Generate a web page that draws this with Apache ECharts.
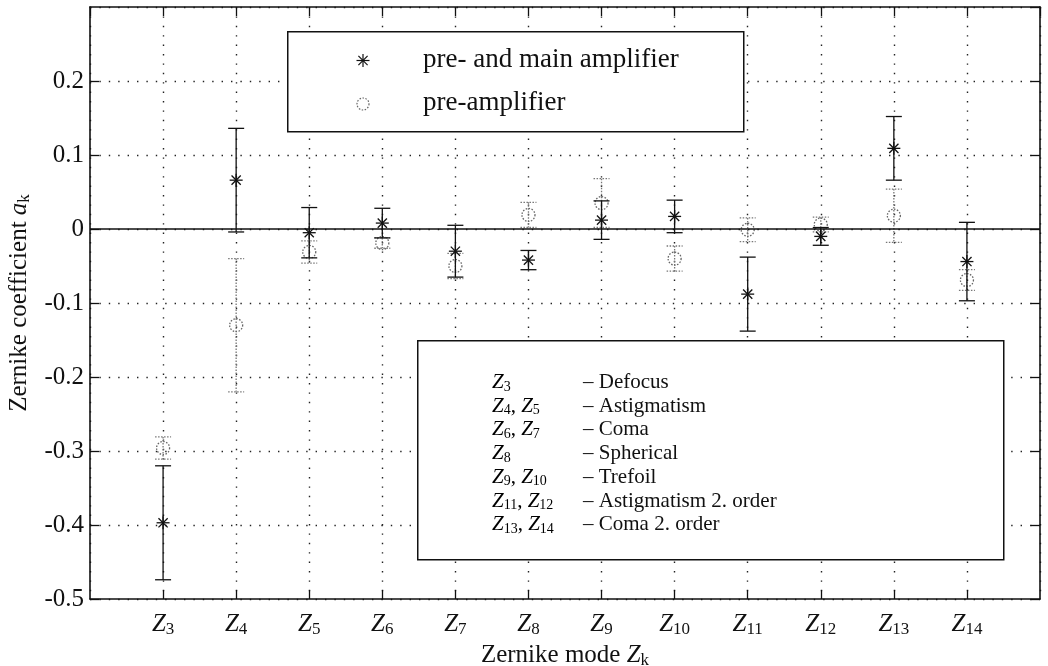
<!DOCTYPE html>
<html>
<head>
<meta charset="utf-8">
<script src="https://cdn.jsdelivr.net/npm/echarts@6/dist/echarts.min.js"></script>
<style>
  html, body { margin: 0; padding: 0; background: #fff; }
  #chart { width: 1048px; height: 666px; }
</style>
</head>
<body>
<div id="chart"></div>
<script>
// Zernike modes on the x axis
const modes = [3, 4, 5, 6, 7, 8, 9, 10, 11, 12, 13, 14];
// pre- and main amplifier (asterisk), mean and half error bar
const ampMean = [-0.397, 0.066, -0.005, 0.008, -0.030, -0.042, 0.012, 0.017, -0.088, -0.010, 0.109, -0.044];
const ampErr = [0.077, 0.070, 0.034, 0.020, 0.035, 0.013, 0.026, 0.022, 0.050, 0.012, 0.043, 0.053];
// pre-amplifier (circle)
const preMean = [-0.296, -0.130, -0.031, -0.019, -0.050, 0.019, 0.035, -0.040, -0.001, 0.006, 0.018, -0.069];
const preErr = [0.015, 0.090, 0.015, 0.007, 0.017, 0.017, 0.033, 0.017, 0.016, 0.010, 0.036, 0.014];
// y tick labels
const yTicks = [-0.5, -0.4, -0.3, -0.2, -0.1, 0, 0.1, 0.2];
// second box: modes and names
const groupModes = [['3'], ['4', '5'], ['6', '7'], ['8'], ['9', '10'], ['11', '12'], ['13', '14']];
const groupNames = ['Defocus', 'Astigmatism', 'Coma', 'Spherical', 'Trefoil', 'Astigmatism 2. order', 'Coma 2. order'];

const FONT = 'Liberation Serif';

function zLabel(sub) {
    return '{i|Z}{s|' + sub + '}';
}

function makeRich(size, subSize) {
    return {
        i: { fontFamily: FONT, fontStyle: 'italic', fontSize: size, color: '#111' },
        s: { fontFamily: FONT, fontSize: subSize, color: '#111', padding: [Math.round(size * 0.45), 0, 0, 0] },
        t: { fontFamily: FONT, fontSize: size, color: '#111' }
    };
}

// error bar + marker for one point
function errorItem(kind) {
    return function (params, api) {
        let x = api.value(0), m = api.value(1), e = api.value(2);
        let c = api.coord([x, m]);
        let hi = api.coord([x, m + e]);
        let lo = api.coord([x, m - e]);
        let w = 8;
        let style = kind === 'star'
            ? { stroke: '#111', lineWidth: 1.3 }
            : { stroke: '#777', lineWidth: 1.3, lineDash: [1.5, 1.5] };
        let children = [
            { type: 'line', shape: { x1: hi[0], y1: hi[1], x2: lo[0], y2: lo[1] }, style: style },
            { type: 'line', shape: { x1: hi[0] - w, y1: hi[1], x2: hi[0] + w, y2: hi[1] }, style: style },
            { type: 'line', shape: { x1: lo[0] - w, y1: lo[1], x2: lo[0] + w, y2: lo[1] }, style: style }
        ];
        if (kind === 'star') {
            let r = 6.5, d = 4.6;
            let ms = { stroke: '#111', lineWidth: 1.3 };
            children.push(
                { type: 'line', shape: { x1: c[0], y1: c[1] - r, x2: c[0], y2: c[1] + r }, style: ms },
                { type: 'line', shape: { x1: c[0] - r, y1: c[1], x2: c[0] + r, y2: c[1] }, style: ms },
                { type: 'line', shape: { x1: c[0] - d, y1: c[1] - d, x2: c[0] + d, y2: c[1] + d }, style: ms },
                { type: 'line', shape: { x1: c[0] - d, y1: c[1] + d, x2: c[0] + d, y2: c[1] - d }, style: ms }
            );
        } else {
            children.push({ type: 'circle', shape: { cx: c[0], cy: c[1], r: 6.5 },
                style: { fill: 'none', stroke: '#666', lineWidth: 1.3, lineDash: [1.5, 1.5] } });
        }
        return { type: 'group', children: children };
    };
}

let myChart = echarts.init(document.getElementById('chart'));

let dotted = { color: '#222', width: 1.4, type: [1.4, 8] };
let starLine = { stroke: '#111', lineWidth: 1.2 };

// legend boxes
let graphics = [
    { type: 'rect', left: 287, top: 31, shape: { width: 456, height: 100 },
        style: { fill: '#fff', stroke: '#111', lineWidth: 1.5 }, z: 10 },
    { type: 'line', z: 11, shape: { x1: 363, y1: 54, x2: 363, y2: 67 }, style: starLine },
    { type: 'line', z: 11, shape: { x1: 356.5, y1: 60.5, x2: 369.5, y2: 60.5 }, style: starLine },
    { type: 'line', z: 11, shape: { x1: 358.4, y1: 55.9, x2: 367.6, y2: 65.1 }, style: starLine },
    { type: 'line', z: 11, shape: { x1: 358.4, y1: 65.1, x2: 367.6, y2: 55.9 }, style: starLine },
    { type: 'circle', shape: { cx: 363, cy: 104, r: 6 }, z: 11,
        style: { fill: 'none', stroke: '#666', lineWidth: 1.2, lineDash: [1.5, 1.5] } },
    { type: 'text', left: 423, top: 46, z: 11,
        style: { text: 'pre- and main amplifier', font: '27px "Liberation Serif"', fill: '#111' } },
    { type: 'text', left: 423, top: 89, z: 11,
        style: { text: 'pre-amplifier', font: '27px "Liberation Serif"', fill: '#111' } },
    { type: 'rect', left: 417, top: 340, shape: { width: 586, height: 219 },
        style: { fill: '#fff', stroke: '#111', lineWidth: 1.5 }, z: 10 }
];
groupModes.forEach(function (g, k) {
    let y = 372 + k * 23.7;
    graphics.push({ type: 'text', left: 492, top: y, z: 11,
        style: { text: g.map(zLabel).join('{t|, }'), rich: makeRich(21, 14) } });
    graphics.push({ type: 'text', left: 583, top: y, z: 11,
        style: { text: '\u2013 ' + groupNames[k], font: '21px "Liberation Serif"', fill: '#111' } });
});

let axisLineStyle = { onZero: false, show: true, lineStyle: { color: '#111', width: 1.6 } };
let tickStyle = { inside: true, length: 9, lineStyle: { color: '#111', width: 1.3 } };

let option = {
    animation: false,
    backgroundColor: '#fff',
    grid: { left: 90, right: 8, top: 7, bottom: 67, outerBoundsMode: 'none', containLabel: false },
    xAxis: [{
        type: 'value', min: 2, max: 15, interval: 1,
        axisLine: axisLineStyle,
        axisTick: tickStyle,
        splitLine: { show: true, lineStyle: dotted },
        axisLabel: {
            showMinLabel: false, showMaxLabel: false, margin: 11,
            formatter: function (v) { return zLabel(v); },
            rich: makeRich(25, 17)
        },
        name: 'Zernike mode {i|Z}{s|k}', nameLocation: 'middle', nameGap: 37,
        nameTextStyle: { fontFamily: FONT, fontSize: 25, color: '#111', rich: makeRich(25, 17) }
    }, {
        type: 'value', min: 2, max: 15, interval: 1, position: 'top',
        axisLine: axisLineStyle,
        axisTick: tickStyle,
        axisLabel: { show: false }, splitLine: { show: false }
    }],
    yAxis: [{
        type: 'value', min: -0.5, max: 0.3, interval: 0.1,
        axisLine: axisLineStyle,
        axisTick: tickStyle,
        splitLine: { show: true, lineStyle: dotted },
        axisLabel: {
            showMaxLabel: false, margin: 6, fontFamily: FONT, fontSize: 25, color: '#111',
            formatter: function (v) {
                let r = Math.round(v * 10) / 10;
                return yTicks.indexOf(r) >= 0 ? String(r) : '';
            }
        },
        name: 'Zernike coefficient {i|a}{s|k}', nameLocation: 'middle', nameGap: 56,
        nameTextStyle: { fontFamily: FONT, fontSize: 25, color: '#111', rich: makeRich(25, 17) }
    }, {
        type: 'value', min: -0.5, max: 0.3, interval: 0.1, position: 'right',
        axisLine: axisLineStyle,
        axisTick: tickStyle,
        axisLabel: { show: false }, splitLine: { show: false }
    }],
    graphic: graphics,
    series: [
        {
            name: 'zero', type: 'line', data: [[2, 0], [15, 0]], symbol: 'none',
            lineStyle: { color: '#111', width: 1.6 }, silent: true
        },
        {
            name: 'pre-amplifier', type: 'custom', renderItem: errorItem('circle'),
            encode: { x: 0, y: 1 },
            data: modes.map(function (m, i) { return [m, preMean[i], preErr[i]]; })
        },
        {
            name: 'pre- and main amplifier', type: 'custom', renderItem: errorItem('star'),
            encode: { x: 0, y: 1 },
            data: modes.map(function (m, i) { return [m, ampMean[i], ampErr[i]]; })
        }
    ]
};
myChart.setOption(option);
</script>
</body>
</html>
